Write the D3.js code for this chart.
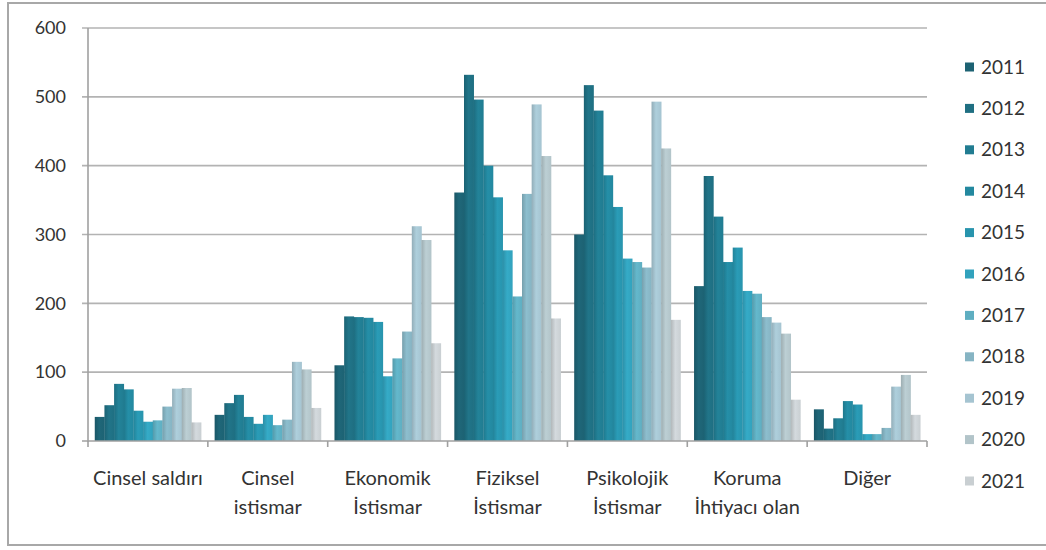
<!DOCTYPE html>
<html><head><meta charset="utf-8">
<script src="https://cdn.jsdelivr.net/npm/d3@7"></script>
<style>body{margin:0;background:#fff;} svg{display:block;}</style>
</head><body>
<svg id="c" width="1046" height="550"></svg>
<script>
const categories = ["Cinsel saldırı","Cinsel istismar","Ekonomik İstismar","Fiziksel İstismar","Psikolojik İstismar","Koruma İhtiyacı olan","Diğer"];
const categoryLines = [["Cinsel saldırı"],["Cinsel","istismar"],["Ekonomik","İstismar"],["Fiziksel","İstismar"],["Psikolojik","İstismar"],["Koruma","İhtiyacı olan"],["Diğer"]];
const years = ["2011","2012","2013","2014","2015","2016","2017","2018","2019","2020","2021"];
// values per category, ordered by year 2011..2021
const cinselSaldiri   = [35, 52, 83, 75, 44, 28, 30, 50, 76, 77, 27];
const cinselIstismar  = [38, 55, 67, 35, 25, 38, 23, 31, 115, 104, 48];
const ekonomik        = [110, 181, 180, 179, 173, 94, 120, 159, 312, 292, 142];
const fiziksel        = [361, 532, 496, 400, 354, 277, 210, 359, 489, 414, 178];
const psikolojik      = [300, 517, 480, 386, 340, 265, 260, 252, 493, 425, 176];
const koruma          = [225, 385, 326, 260, 281, 218, 214, 180, 172, 156, 60];
const diger           = [46, 18, 33, 58, 53, 10, 10, 19, 79, 96, 38];
const seriesByCategory = [cinselSaldiri, cinselIstismar, ekonomik, fiziksel, psikolojik, koruma, diger];
const yTicks = [0,100,200,300,400,500,600];
const colors = ["#1d6273","#1f6f82","#217c91","#23889f","#2894ad","#32a2bd","#5faec1","#86b4c3","#a5c4d1","#b2c4c9","#c9cfd2"];

const svg = d3.select("#c");
const font = "Lato, 'Open Sans', sans-serif";

// outer border
svg.append("rect").attr("x",8).attr("y",3).attr("width",1050).attr("height",542)
  .attr("fill","none").attr("stroke","#a8a8a8").attr("stroke-width",2);

const x0 = d3.scaleBand().domain(categories).range([88, 927]).paddingInner(0).paddingOuter(0);
const x1 = d3.scaleBand().domain(years).range([0, x0.bandwidth()]).paddingInner(0).paddingOuter(0.7);
const y = d3.scaleLinear().domain([0,600]).range([441, 28]);

// gradients
const defs = svg.append("defs");
colors.forEach((c,i)=>{
  const g = defs.append("linearGradient").attr("id","g"+i).attr("x1","0%").attr("x2","100%").attr("y1","0%").attr("y2","0%");
  const base = d3.color(c);
  g.append("stop").attr("offset","0%").attr("stop-color", base.darker(0.35));
  g.append("stop").attr("offset","45%").attr("stop-color", base.brighter(0.15));
  g.append("stop").attr("offset","100%").attr("stop-color", base);
});

// gridlines
svg.append("g").selectAll("line").data(yTicks.filter(d=>d>0)).join("line")
  .attr("x1",82).attr("x2",927).attr("y1",d=>y(d)).attr("y2",d=>y(d))
  .attr("stroke","#b3b3b3").attr("stroke-width",1.6);

// y axis
svg.append("line").attr("x1",88).attr("x2",88).attr("y1",y(600)).attr("y2",y(0)+1)
  .attr("stroke","#a0a0a0").attr("stroke-width",1.6);
svg.append("g").selectAll("text").data(yTicks).join("text")
  .attr("x",66).attr("y",d=>y(d)).attr("dy","0.35em").attr("text-anchor","end")
  .attr("font-family",font).attr("font-size",18).attr("fill","#333")
  .text(d=>d);

// bars
const groups = svg.append("g").selectAll("g").data(categories).join("g")
  .attr("transform",d=>`translate(${x0(d)},0)`);
groups.selectAll("rect").data((d,ci)=>years.map((yr,yi)=>({yr,yi,v:seriesByCategory[ci][yi]}))).join("rect")
  .attr("x",d=>x1(d.yr)).attr("width",x1.bandwidth()+0.3)
  .attr("y",d=>y(d.v)).attr("height",d=>y(0)-y(d.v))
  .attr("fill",d=>`url(#g${d.yi})`);

// x axis
svg.append("line").attr("x1",82).attr("x2",927).attr("y1",y(0)).attr("y2",y(0))
  .attr("stroke","#a0a0a0").attr("stroke-width",1.6);
const bounds = categories.map(c=>x0(c)).concat([x0.range()[1]]);
svg.append("g").selectAll("line").data(bounds).join("line")
  .attr("x1",d=>d).attr("x2",d=>d).attr("y1",y(0)).attr("y2",y(0)+6)
  .attr("stroke","#a0a0a0").attr("stroke-width",1.6);

const lbl = svg.append("g").selectAll("text").data(categories).join("text")
  .attr("x",d=>x0(d)+x0.bandwidth()/2).attr("y",478)
  .attr("text-anchor","middle").attr("font-family",font).attr("font-size",20).attr("fill","#333");
lbl.each(function(d,i){
  const t = d3.select(this);
  categoryLines[i].forEach((ln,k)=>{
    t.append("tspan").attr("x",x0(d)+x0.bandwidth()/2).attr("y",478+k*29).attr("dy","0.35em").text(ln);
  });
});

// legend
const leg = svg.append("g").selectAll("g").data(years).join("g")
  .attr("transform",(d,i)=>`translate(965,${67+i*41.4})`);
leg.append("rect").attr("x",0).attr("y",-4.5).attr("width",9).attr("height",9).attr("fill",(d,i)=>colors[i]);
leg.append("text").attr("x",16).attr("y",0).attr("dy","0.35em")
  .attr("font-family",font).attr("font-size",19).attr("fill","#333").text(d=>d);
</script>
</body></html>
